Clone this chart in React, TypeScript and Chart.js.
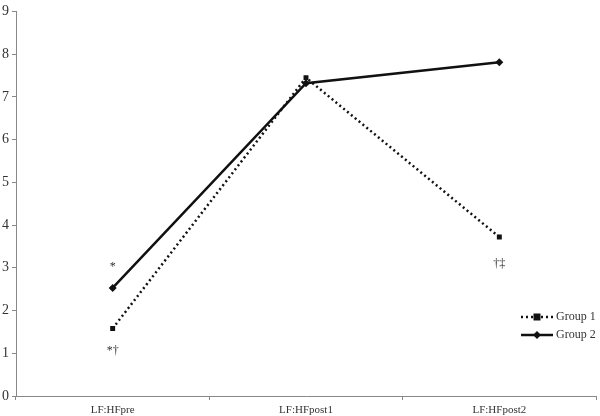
import React, { useEffect, useRef } from "react";
import { Chart, registerables } from "chart.js";

Chart.register(...registerables);

const categories = ["LF:HFpre", "LF:HFpost1", "LF:HFpost2"];
const group1 = [1.58, 7.45, 3.72];
const group2 = [2.53, 7.32, 7.81];
const yTicks = [0, 1, 2, 3, 4, 5, 6, 7, 8, 9];
const annotIndex = [0, 0, 2];
const annotValue = [3.02, 1.05, 3.1];
const annotText = ["*", "*\u2020", "\u2020\u2021"];
const seriesNames = ["Group 1", "Group 2"];

const FONT = "'Liberation Serif', 'Times New Roman', serif";

export default function App() {
  const ref = useRef<HTMLCanvasElement | null>(null);

  useEffect(() => {
    document.body.style.margin = "0";
    if (!ref.current) return;

    const extras = {
      id: "extras",
      afterDatasetsDraw(chart: any) {
        const ctx = chart.ctx;
        const xs = chart.scales.x;
        const ys = chart.scales.y;
        ctx.save();
        ctx.fillStyle = "#333";
        ctx.font = `12px ${FONT}`;
        ctx.textAlign = "center";
        ctx.textBaseline = "middle";
        for (let i = 0; i < annotText.length; i++) {
          ctx.fillText(annotText[i], xs.getPixelForValue(annotIndex[i]), ys.getPixelForValue(annotValue[i]));
        }
        // legend
        const right = chart.chartArea.right;
        const rows = [317, 335];
        for (let i = 0; i < 2; i++) {
          const y = rows[i];
          const x0 = right - 75;
          const x1 = right - 43;
          ctx.strokeStyle = "#111";
          ctx.lineWidth = 2.5;
          ctx.setLineDash(i === 0 ? [2, 3] : []);
          ctx.beginPath();
          ctx.moveTo(x0, y);
          ctx.lineTo(x1, y);
          ctx.stroke();
          ctx.setLineDash([]);
          ctx.fillStyle = "#111";
          const cx = (x0 + x1) / 2;
          if (i === 0) {
            ctx.fillRect(cx - 3.5, y - 3.5, 7, 7);
          } else {
            ctx.beginPath();
            ctx.moveTo(cx, y - 4);
            ctx.lineTo(cx + 4, y);
            ctx.lineTo(cx, y + 4);
            ctx.lineTo(cx - 4, y);
            ctx.closePath();
            ctx.fill();
          }
          ctx.fillStyle = "#333";
          ctx.font = `12px ${FONT}`;
          ctx.textAlign = "left";
          ctx.textBaseline = "middle";
          ctx.fillText(seriesNames[i], x1 + 3, y);
        }
        ctx.restore();
      },
    };

    const chart = new Chart(ref.current, {
      type: "line",
      data: {
        labels: categories,
        datasets: [
          {
            label: seriesNames[0],
            data: group1,
            borderColor: "#111",
            backgroundColor: "#111",
            borderWidth: 2.5,
            borderDash: [2, 3],
            pointStyle: "rect",
            pointRadius: 3.5,
            pointBorderWidth: 0,
            tension: 0,
          },
          {
            label: seriesNames[1],
            data: group2,
            borderColor: "#111",
            backgroundColor: "#111",
            borderWidth: 2.5,
            pointStyle: "rectRot",
            pointRadius: 4,
            pointBorderWidth: 0,
            tension: 0,
          },
        ],
      },
      options: {
        animation: false,
        responsive: true,
        maintainAspectRatio: false,
        layout: { padding: { top: 9, right: 1, left: 0, bottom: 0 } },
        plugins: { legend: { display: false }, tooltip: { enabled: false } },
        scales: {
          x: {
            offset: true,
            afterFit: (scale: any) => {
              scale.height = 20;
            },
            grid: { offset: true, drawOnChartArea: false, drawTicks: true, tickLength: 4, color: "#888" },
            border: { color: "#888", width: 1 },
            ticks: { color: "#333", font: { family: FONT, size: 11 }, padding: 4, maxRotation: 0 },
          },
          y: {
            min: 0,
            max: 9,
            afterBuildTicks: (scale: any) => {
              scale.ticks = yTicks.map((v) => ({ value: v }));
            },
            afterFit: (scale: any) => {
              scale.width = 16;
            },
            grid: { drawOnChartArea: false, drawTicks: true, tickLength: 4, color: "#888" },
            border: { color: "#888", width: 1 },
            ticks: { color: "#333", font: { family: FONT, size: 14 }, padding: 3 },
          },
        },
      },
      plugins: [extras],
    });
    return () => chart.destroy();
  }, []);

  return (
    <div style={{ position: "fixed", left: 0, top: 0, width: 600, height: 416, background: "#fff" }}>
      <canvas ref={ref} />
    </div>
  );
}
